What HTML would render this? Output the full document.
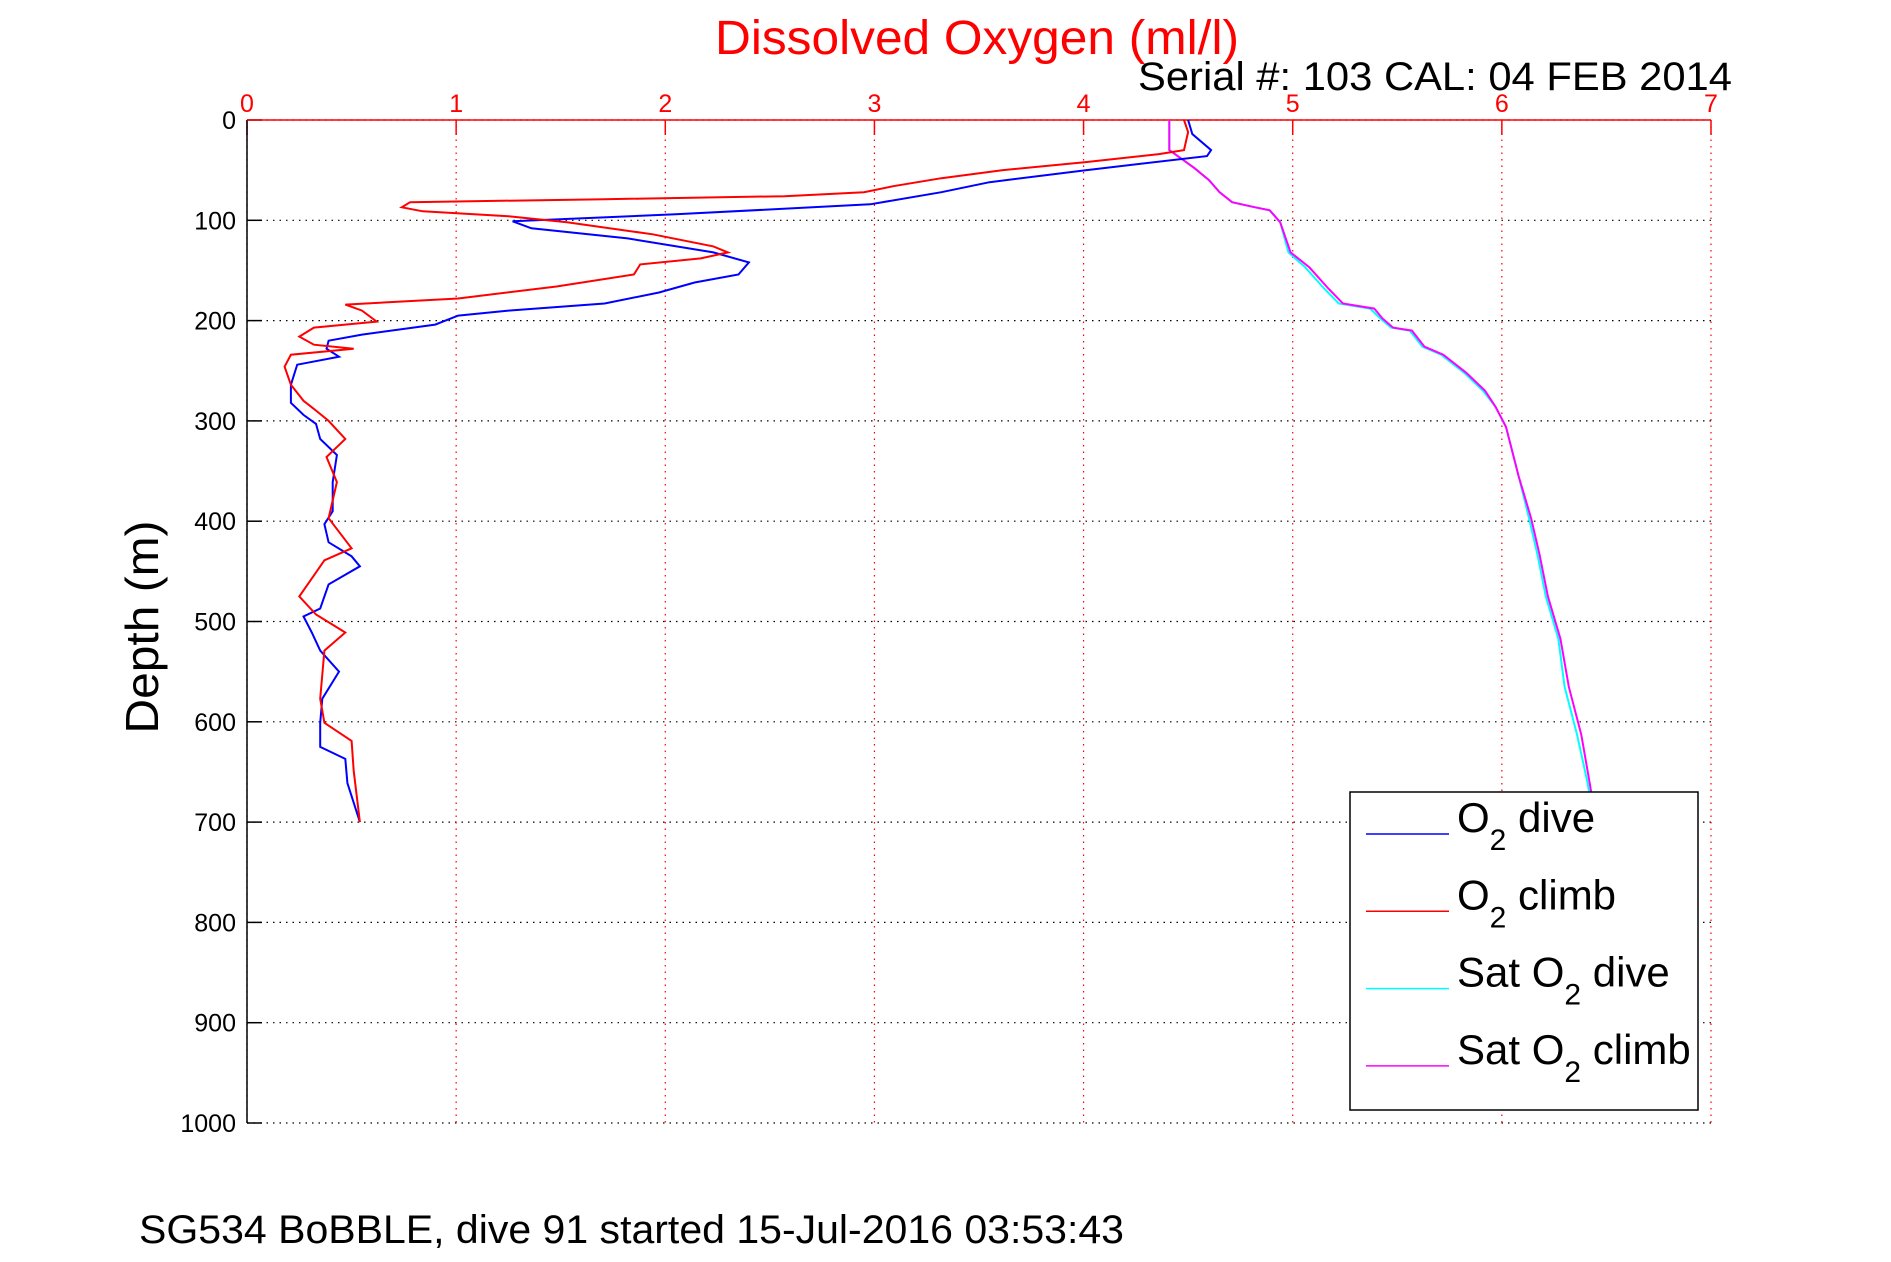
<!DOCTYPE html>
<html><head><meta charset="utf-8"><style>
html,body{margin:0;padding:0;background:#fff}
svg{display:block}
text{font-family:"Liberation Sans",sans-serif}
</style></head><body>
<svg id="chart" width="1891" height="1262" viewBox="0 0 1891 1262" xmlns="http://www.w3.org/2000/svg">
<g id="grid"></g>
<g id="axes"></g>
<g id="series"></g>
<text x="977" y="54" text-anchor="middle" font-size="48" fill="#f00" textLength="524" lengthAdjust="spacingAndGlyphs">Dissolved Oxygen (ml/l)</text>
<text x="1138" y="90" font-size="40" fill="#000" textLength="594" lengthAdjust="spacingAndGlyphs">Serial #: 103  CAL: 04 FEB 2014</text>
<text transform="translate(158,627) rotate(-90)" text-anchor="middle" font-size="46" fill="#000" textLength="213" lengthAdjust="spacingAndGlyphs">Depth (m)</text>
<text x="139" y="1243" font-size="40" fill="#000" textLength="985" lengthAdjust="spacingAndGlyphs">SG534 BoBBLE, dive 91 started 15-Jul-2016 03:53:43</text>
<g id="legend">
<rect x="1350" y="792" width="348" height="318" fill="#fff" stroke="#000" stroke-width="1.5"/>
</g>
</svg>
<script>
const xTicks=[0,1,2,3,4,5,6,7];
const yTicks=[0,100,200,300,400,500,600,700,800,900,1000];
const o2DiveDepth=[0,14,30,36,50,62,72,84,94,101,108,118,132,142,154,162,172,183,190,195,204,214,220,228,236,244,264,282,294,303,318,334,361,390,403,421,435,445,463,487,495,511,529,550,577,601,625,637,661,700];
const o2DiveVal=[4.50,4.52,4.61,4.59,4.01,3.55,3.32,2.98,2.05,1.27,1.36,1.82,2.23,2.40,2.35,2.14,1.97,1.71,1.25,1.01,0.90,0.55,0.39,0.38,0.44,0.24,0.21,0.21,0.27,0.33,0.35,0.43,0.41,0.41,0.37,0.39,0.50,0.54,0.39,0.35,0.27,0.31,0.35,0.44,0.36,0.35,0.35,0.47,0.48,0.54];
const o2ClimbDepth=[0,12,30,34,42,50,58,66,72,76,79,82,87,91,96,102,114,126,132,138,144,154,166,178,184,190,201,207,216,224,228,234,246,264,280,288,300,318,336,361,397,427,439,451,475,493,511,529,577,601,619,649,700];
const o2ClimbVal=[4.48,4.50,4.48,4.36,4.01,3.61,3.32,3.09,2.95,2.57,1.71,0.78,0.74,0.84,1.25,1.53,1.94,2.23,2.30,2.17,1.88,1.85,1.48,1.01,0.47,0.55,0.62,0.32,0.25,0.32,0.51,0.21,0.18,0.21,0.27,0.32,0.39,0.47,0.38,0.43,0.39,0.50,0.37,0.33,0.25,0.33,0.47,0.37,0.35,0.37,0.50,0.51,0.54];
const satDepth=[0,30,36,48,60,72,82,87,90,102,132,147,168,183,188,198,207,210,226,234,252,270,286,306,355,397,433,475,517,565,613,661,700];
const satDiveVal=[4.41,4.41,4.45,4.53,4.60,4.65,4.71,4.82,4.89,4.94,4.98,5.06,5.15,5.22,5.37,5.42,5.47,5.56,5.62,5.71,5.82,5.91,5.97,6.02,6.08,6.13,6.17,6.21,6.27,6.30,6.36,6.41,6.44];
const satClimbVal=[4.41,4.41,4.45,4.53,4.60,4.65,4.71,4.82,4.89,4.94,4.99,5.08,5.17,5.24,5.39,5.43,5.48,5.57,5.63,5.72,5.83,5.92,5.97,6.02,6.08,6.14,6.18,6.22,6.28,6.32,6.38,6.42,6.45];

const NS='http://www.w3.org/2000/svg';
const L=247,R=1711,T=120,B=1123;
const xs=v=>L+(R-L)*v/7;
const ys=d=>T+(B-T)*d/1000;
function mk(tag,attrs,parent){const e=document.createElementNS(NS,tag);for(const k in attrs)e.setAttribute(k,attrs[k]);parent.appendChild(e);return e;}
const grid=document.getElementById('grid'),axes=document.getElementById('axes'),series=document.getElementById('series'),legend=document.getElementById('legend');

yTicks.forEach(d=>{
 const g=mk('line',{x1:L,x2:R,y1:ys(d),y2:ys(d),stroke:'#000','stroke-width':1.2,'stroke-dasharray':'1.5 5'},grid);
 
 
 const t=mk('line',{x1:L,x2:L+15,y1:ys(d),y2:ys(d),stroke:'#000','stroke-width':1.5},axes);
 
 
 const lb=mk('text',{x:236,y:ys(d)+9,'text-anchor':'end','font-size':25,fill:'#000'},axes);
 lb.textContent=d;
 
 
});
xTicks.forEach(v=>{
 const g=mk('line',{x1:xs(v),x2:xs(v),y1:T,y2:B,stroke:'#f00','stroke-width':1.2,'stroke-dasharray':'1.5 5'},grid);
 
 
 const t=mk('line',{x1:xs(v),x2:xs(v),y1:T,y2:T+15,stroke:'#f00','stroke-width':1.5},axes);
 
 
 const lb=mk('text',{x:xs(v),y:112,'text-anchor':'middle','font-size':25,fill:'#f00'},axes);
 lb.textContent=v;
 
 
});
const ax1=mk('line',{x1:L,x2:L,y1:T,y2:B,stroke:'#000','stroke-width':1.5},axes);


const ax2=mk('line',{x1:L,x2:R,y1:T,y2:T,stroke:'#f00','stroke-width':1.5},axes);



function line(depths,vals,color,name){
 const pts=depths.map((d,i)=>xs(vals[i]).toFixed(1)+','+ys(d).toFixed(1)).join(' ');
 const p=mk('polyline',{points:pts,fill:'none',stroke:color,'stroke-width':2},series);
 
 
}
line(satDepth,satDiveVal,'#0ff','sat-o2-dive-line');
line(satDepth,satClimbVal,'#f0f','sat-o2-climb-line');
line(o2DiveDepth,o2DiveVal,'#00f','o2-dive-line');
line(o2ClimbDepth,o2ClimbVal,'#f00','o2-climb-line');

// legend on top
document.getElementById('chart').appendChild(legend);
const entries=[['#00f','O','2',' dive',''],['#f00','O','2',' climb',''],['#0ff','Sat O','2',' dive',''],['#f0f','Sat O','2',' climb','']];
entries.forEach((e,i)=>{
 const y=834+i*77.3;
 const ln=mk('line',{x1:1366,x2:1449,y1:y,y2:y,stroke:e[0],'stroke-width':1.5},legend);
 
 
 const t=mk('text',{x:1457,y:y-2,'font-size':42,fill:'#000'},legend);
 
 
 const a=mk('tspan',{},t);a.textContent=e[1];
 const b=mk('tspan',{dy:18,'font-size':30},t);b.textContent=e[2];
 const c=mk('tspan',{dy:-18},t);c.textContent=e[3];
});
</script>
</body></html>
